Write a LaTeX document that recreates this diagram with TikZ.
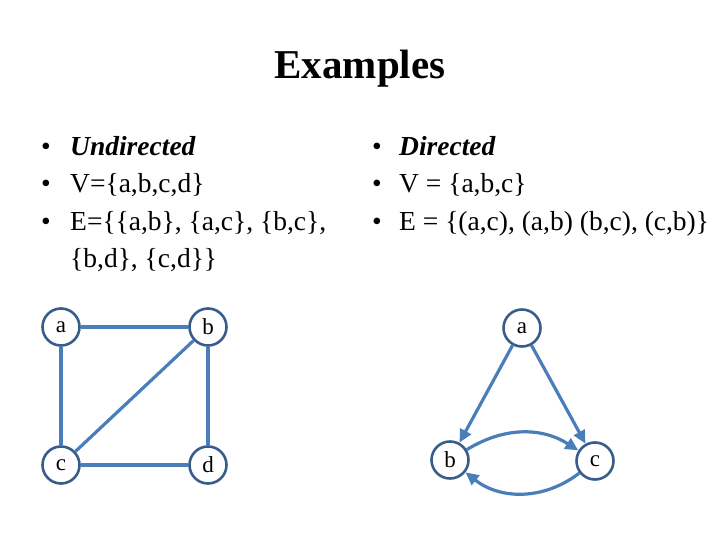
\documentclass[tikz,border=0pt]{standalone}
\usepackage{fontspec}
\setmainfont{Liberation Serif}
\usetikzlibrary{arrows.meta}
\definecolor{edgeblue}{HTML}{4A7EBB}
\definecolor{ringblue}{HTML}{385D8A}
\begin{document}
\begin{tikzpicture}[x=1pt,y=-1pt,
  vertex/.style={circle,draw=ringblue,line width=2.6pt,fill=white,minimum size=37pt,inner sep=0pt,font=\fontsize{23}{23}\selectfont},
  edge/.style={draw=edgeblue,line width=3.2pt},
  arc/.style={edge,-{Triangle[length=13pt,width=12pt]}},
  item/.style={anchor=base west,inner sep=0pt,font=\fontsize{27.5}{27.5}\selectfont}]
\useasboundingbox (0,0) rectangle (720,540);
% title
\node[font=\fontsize{41}{41}\selectfont\bfseries] (title) at (360,69) {Examples};
% left column
\node[item] (bl1) at (41,156) {\textbullet};
\node[item] (tl1) at (70,156) {\bfseries\itshape Undirected};
\node[item] (bl2) at (41,193) {\textbullet};
\node[item] (tl2) at (70,193) {V=\{a,b,c,d\}};
\node[item] (bl3) at (41,230) {\textbullet};
\node[item] (tl3) at (70,230) {E=\{\{a,b\}, \{a,c\}, \{b,c\},};
\node[item] (tl4) at (70,267) {\{b,d\}, \{c,d\}\}};
% right column
\node[item] (br1) at (372,156) {\textbullet};
\node[item] (tr1) at (399,156) {\bfseries\itshape Directed};
\node[item] (br2) at (372,193) {\textbullet};
\node[item] (tr2) at (399,193) {V = \{a,b,c\}};
\node[item] (br3) at (372,230) {\textbullet};
\node[item] (tr3) at (399,230) {E = \{(a,c), (a,b) (b,c), (c,b)\}};
% undirected graph
\node[vertex] (ua) at (61,327) {a};
\node[vertex] (ub) at (208,327) {b};
\node[vertex] (uc) at (61,465) {c};
\node[vertex] (ud) at (208,465) {d};
\draw[edge] (ua) -- (ub);
\draw[edge] (ua) -- (uc);
\draw[edge] (ub) -- (uc);
\draw[edge] (ub) -- (ud);
\draw[edge] (uc) -- (ud);
% directed graph
\node[vertex] (da) at (522,328) {a};
\node[vertex] (db) at (450,460) {b};
\node[vertex] (dc) at (595,461) {c};
\draw[arc] (da) -- (db);
\draw[arc] (da) -- (dc);
\draw[arc] (db) to[bend left=32] (dc);
\draw[arc] (dc) to[bend left=38] (db);
\end{tikzpicture}
\end{document}
